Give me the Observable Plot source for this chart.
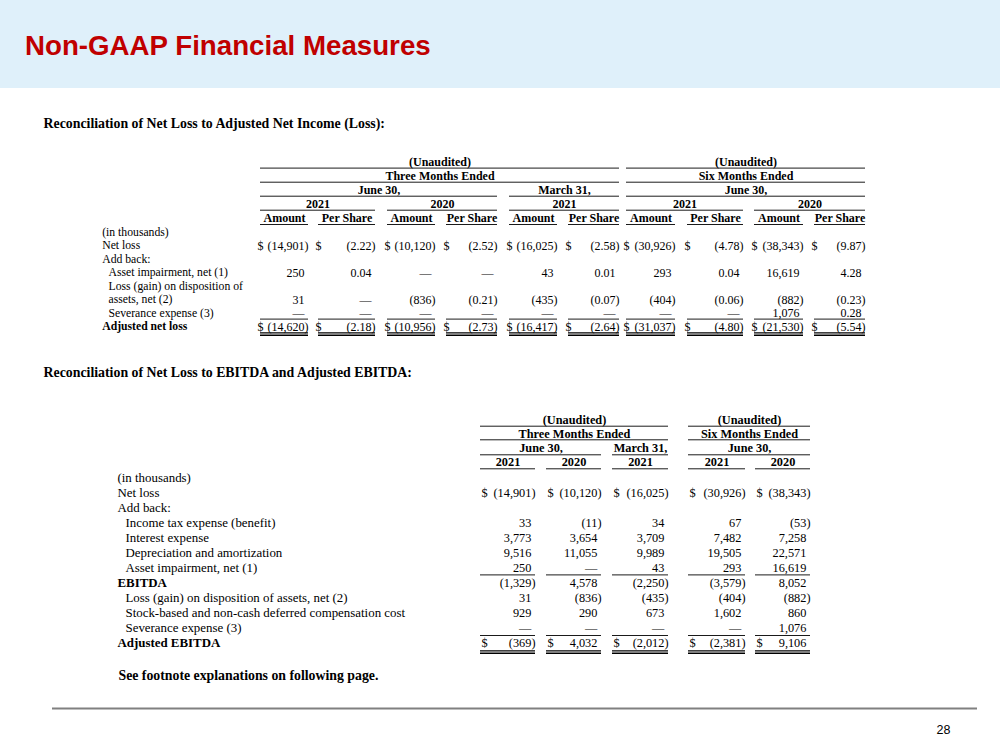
<!DOCTYPE html>
<html><head><meta charset="utf-8">
<script src="https://cdn.jsdelivr.net/npm/d3@7"></script>
<script src="https://cdn.jsdelivr.net/npm/@observablehq/plot@0.6"></script>
<style>
html,body{margin:0;padding:0;background:#fff;}
body{width:1000px;height:750px;overflow:hidden;}
#banner{height:88px;background:#dff0fa;position:relative;}
#banner h1{margin:0;position:absolute;left:25px;top:30px;line-height:28px;font:bold 27.7px "Liberation Sans",Arial,sans-serif;color:#c00000;}
#chart svg{display:block;}
</style></head><body>
<div id="banner"><h1>Non-GAAP Financial Measures</h1></div>
<div id="chart"></div>
<script>
// ---------------- DATA ----------------
const pageTitle = "Non-GAAP Financial Measures";
const subtitle1 = "Reconciliation of Net Loss to Adjusted Net Income (Loss):";
const subtitle2 = "Reconciliation of Net Loss to EBITDA and Adjusted EBITDA:";
const footnote = "See footnote explanations on following page.";
const pageNumber = "28";

// Table 1 headers
const t1Groups = ["(Unaudited)", "(Unaudited)"];
const t1GroupNames = ["Three Months Ended", "Six Months Ended"];
const t1Dates = ["June 30,", "March 31,", "June 30,"];
const t1Years = ["2021", "2020", "2021", "2021", "2020"];
const t1SubCols = ["Amount", "Per Share"];
// Table 1 row labels
const t1Labels = ["(in thousands)", "Net loss", "Add back:", "Asset impairment, net (1)",
  "Loss (gain) on disposition of", "assets, net (2)", "Severance expense (3)", "Adjusted net loss"];
// Table 1 values (5 periods: Q2'21, Q2'20, Q1'21, 6M'21, 6M'20); null = em dash
const netLossAmount      = [-14901, -10120, -16025, -30926, -38343];
const netLossPerShare    = [-2.22, -2.52, -2.58, -4.78, -9.87];
const impairAmount       = [250, null, 43, 293, 16619];
const impairPerShare     = [0.04, null, 0.01, 0.04, 4.28];
const dispAmount         = [31, -836, -435, -404, -882];
const dispPerShare       = [null, -0.21, -0.07, -0.06, -0.23];
const severAmount        = [null, null, null, null, 1076];
const severPerShare      = [null, null, null, null, 0.28];
const adjNetLossAmount   = [-14620, -10956, -16417, -31037, -21530];
const adjNetLossPerShare = [-2.18, -2.73, -2.64, -4.80, -5.54];

// Table 2 headers
const t2Groups = ["(Unaudited)", "(Unaudited)"];
const t2GroupNames = ["Three Months Ended", "Six Months Ended"];
const t2Dates = ["June 30,", "March 31,", "June 30,"];
const t2Years = ["2021", "2020", "2021", "2021", "2020"];
// Table 2 row labels
const t2Labels = ["(in thousands)", "Net loss", "Add back:", "Income tax expense (benefit)",
  "Interest expense", "Depreciation and amortization", "Asset impairment, net (1)", "EBITDA",
  "Loss (gain) on disposition of assets, net (2)", "Stock-based and non-cash deferred compensation cost",
  "Severance expense (3)", "Adjusted EBITDA"];
const e_netLoss   = [-14901, -10120, -16025, -30926, -38343];
const e_incomeTax = [33, -11, 34, 67, -53];
const e_interest  = [3773, 3654, 3709, 7482, 7258];
const e_deprec    = [9516, 11055, 9989, 19505, 22571];
const e_impair    = [250, null, 43, 293, 16619];
const e_ebitda    = [-1329, 4578, -2250, -3579, 8052];
const e_disp      = [31, -836, -435, -404, -882];
const e_stock     = [929, 290, 673, 1602, 860];
const e_sever     = [null, null, null, null, 1076];
const e_adjEbitda = [-369, 4032, -2012, -2381, 9106];

// ---------------- LAYOUT ----------------
const SERIF = "Liberation Serif, Times New Roman, serif";
const t1 = {
  cols: [[260,308],[318,375],[387,435],[446,497],[509,557],[568,619],[626,675],[687,743],[754,803],[814,865]],
  groupSpans: [[0,5],[6,9]], dateSpans: [[0,3],[4,5],[6,9]], yearSpans: [[0,1],[2,3],[4,5],[6,7],[8,9]],
  headY: [162, 175.7, 189.7, 203.3, 218], headLineY: [167.6, 181.7, 195.7, 209.7, 224],
  bodyTop: 231.7, step: 13.5, labelX: 101.7, indentX: 108,
  indent: [false,false,false,true,true,true,true,false], boldRow: [7],
  font: 12, labelFont: 11.7, dollarShift: -3
};
const t2 = {
  cols: [[480,535],[546,601],[612,668],[688,745],[755,810]],
  groupSpans: [[0,2],[3,4]], dateSpans: [[0,1],[2,2],[3,4]], yearSpans: [[0,0],[1,1],[2,2],[3,3],[4,4]],
  headY: [420, 433.3, 447.7, 461.7], headLineY: [425.7, 439.3, 454.3, 468.3],
  bodyTop: 477.2, step: 15, labelX: 117, indentX: 125,
  indent: [false,false,false,true,true,true,true,false,true,true,true,false], boldRow: [7, 11],
  font: 12.3, labelFont: 12.9, dollarShift: 1
};

// ---------------- BUILD ----------------
const fmtAmt = v => v == null ? "—" : v < 0 ? `(${d3.format(",")(-v)})` : d3.format(",")(v);
const fmtPS = v => v == null ? "—" : v < 0 ? `(${d3.format(".2f")(-v)})` : d3.format(".2f")(v);

const boldText = [], regText = [], valText = [], dollarText = [], rules = [];
const spanX = (T, s) => [T.cols[s[0]][0], T.cols[s[1]][1]];
const mid = a => (a[0] + a[1]) / 2;

function headerBlock(T, levels) {
  levels.forEach((lv, i) => {
    lv.spans.forEach((s, j) => {
      const ext = spanX(T, s);
      boldText.push({x: mid(ext), y: T.headY[i], text: lv.texts[j], anchor: "middle", size: T.font});
      rules.push({x1: ext[0], x2: ext[1], y: T.headLineY[i]});
    });
  });
}
headerBlock(t1, [
  {spans: t1.groupSpans, texts: t1Groups},
  {spans: t1.groupSpans, texts: t1GroupNames},
  {spans: t1.dateSpans, texts: t1Dates},
  {spans: t1.yearSpans, texts: t1Years},
  {spans: t1.cols.map((c, i) => [i, i]), texts: t1.cols.map((c, i) => t1SubCols[i % 2])}
]);
headerBlock(t2, [
  {spans: t2.groupSpans, texts: t2Groups},
  {spans: t2.groupSpans, texts: t2GroupNames},
  {spans: t2.dateSpans, texts: t2Dates},
  {spans: t2.yearSpans, texts: t2Years}
]);

function labels(T, labs) {
  labs.forEach((l, i) => {
    const d = {x: T.indent[i] ? T.indentX : T.labelX, y: T.bodyTop + i * T.step, text: l, anchor: "start", size: T.labelFont};
    (T.boldRow.includes(i) ? boldText : regText).push(d);
  });
}
labels(t1, t1Labels);
labels(t2, t2Labels);

function cell(T, col, row, str, isNeg, dollar) {
  const [l, r] = T.cols[col];
  const y = T.bodyTop + row * T.step;
  const pad = isNeg ? 0 : T.font * 0.333;
  valText.push({x: r - pad, y, text: str, size: T.font});
  if (dollar) dollarText.push({x: l + T.dollarShift, y, text: "$", size: T.font});
}
const t1Rows = [
  {row: 1, amt: netLossAmount, ps: netLossPerShare, dollar: true},
  {row: 3, amt: impairAmount, ps: impairPerShare},
  {row: 5, amt: dispAmount, ps: dispPerShare},
  {row: 6, amt: severAmount, ps: severPerShare},
  {row: 7, amt: adjNetLossAmount, ps: adjNetLossPerShare, dollar: true}
];
t1Rows.forEach(R => {
  R.amt.forEach((v, p) => cell(t1, 2 * p, R.row, fmtAmt(v), v != null && v < 0, R.dollar));
  R.ps.forEach((v, p) => cell(t1, 2 * p + 1, R.row, fmtPS(v), v != null && v < 0, R.dollar));
});
const t2Rows = [
  {row: 1, v: e_netLoss, dollar: true}, {row: 3, v: e_incomeTax}, {row: 4, v: e_interest},
  {row: 5, v: e_deprec}, {row: 6, v: e_impair}, {row: 7, v: e_ebitda}, {row: 8, v: e_disp},
  {row: 9, v: e_stock}, {row: 10, v: e_sever}, {row: 11, v: e_adjEbitda, dollar: true}
];
t2Rows.forEach(R => R.v.forEach((v, p) => cell(t2, p, R.row, fmtAmt(v), v != null && v < 0, R.dollar)));

function totalRules(T, yAbove, dbl) {
  T.cols.forEach(([l, r]) => {
    yAbove.forEach(y => rules.push({x1: l, x2: r, y}));
    dbl.forEach(y => rules.push({x1: l, x2: r, y, w: 1.4}));
  });
}
totalRules(t1, [318.6], [332.4, 334.7]);
totalRules(t2, [574.4, 635], [650.4, 652.8]);

const sideText = [
  {x: 43, y: 123.5, text: subtitle1},
  {x: 43, y: 372.5, text: subtitle2}
];
const footText = [{x: 118, y: 675, text: footnote}];
const pageText = [{x: 950, y: 729, text: pageNumber}];
const footerRule = [{x1: 52, x2: 977, y: 708}];

const common = {x: "x", y: "y", text: "text", fill: "#000", lineAnchor: "middle", fontFamily: SERIF};
const byAnchor = (arr, anchor) => arr.filter(d => d.anchor === anchor);

const marks = [
  Plot.ruleY(rules, {x1: "x1", x2: "x2", y: "y", stroke: "#000", strokeWidth: d => d.w || 0.9}),
  Plot.ruleY(footerRule, {x1: "x1", x2: "x2", y: "y", stroke: "#808080", strokeWidth: 2}),
];
for (const [arr, weight] of [[boldText, "bold"], [regText, "normal"]]) {
  for (const anchor of ["start", "middle"]) {
    for (const size of [...new Set(byAnchor(arr, anchor).map(d => d.size))]) {
      const data = byAnchor(arr, anchor).filter(d => d.size === size);
      marks.push(Plot.text(data, {...common, textAnchor: anchor, fontWeight: weight, fontSize: size}));
    }
  }
}
for (const size of [...new Set(valText.map(d => d.size))]) {
  marks.push(Plot.text(valText.filter(d => d.size === size), {...common, textAnchor: "end", fontSize: size}));
  marks.push(Plot.text(dollarText.filter(d => d.size === size), {...common, textAnchor: "start", fontSize: size}));
}
marks.push(Plot.text(sideText, {...common, textAnchor: "start", fontWeight: "bold", fontSize: 13.85}));
marks.push(Plot.text(footText, {...common, textAnchor: "start", fontWeight: "bold", fontSize: 13.8}));
marks.push(Plot.text(pageText, {...common, textAnchor: "end", fontSize: 12.5, fontFamily: "Liberation Sans, Arial, sans-serif"}));

const chart = Plot.plot({
  width: 1000, height: 662,
  marginTop: 0, marginRight: 0, marginBottom: 0, marginLeft: 0,
  x: {type: "linear", domain: [0, 1000], range: [0, 1000], axis: null},
  y: {type: "linear", domain: [88, 750], range: [0, 662], axis: null},
  style: {background: "#fff", overflow: "visible"},
  marks
});
document.getElementById("chart").appendChild(chart);
</script>
</body></html>
